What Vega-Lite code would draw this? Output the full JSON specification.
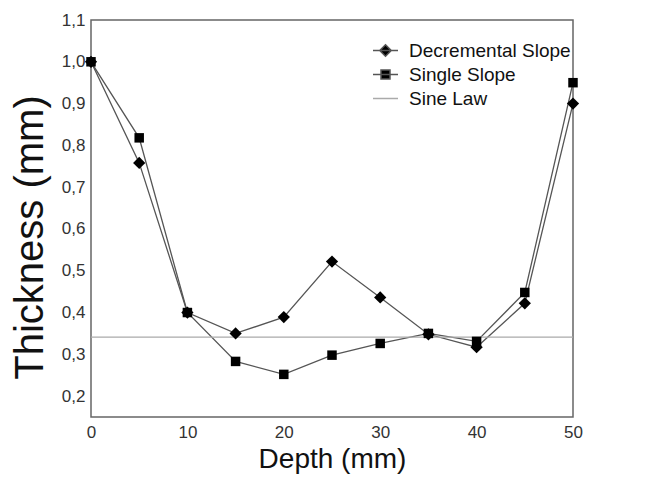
{
  "$schema": "https://vega.github.io/schema/vega-lite/v6.json",
  "width": 482,
  "height": 397,
  "autosize": "none",
  "padding": {"left": 91, "top": 20, "right": 74, "bottom": 60},
  "background": "white",
  "config": {
    "font": "Liberation Sans",
    "view": {"stroke": "#666", "strokeWidth": 1.5}
  },
  "data": {
    "values": [
      {"depth": 0, "thickness": 1.0, "series": "Decremental Slope"},
      {"depth": 5, "thickness": 0.758, "series": "Decremental Slope"},
      {"depth": 10, "thickness": 0.4, "series": "Decremental Slope"},
      {"depth": 15, "thickness": 0.35, "series": "Decremental Slope"},
      {"depth": 20, "thickness": 0.389, "series": "Decremental Slope"},
      {"depth": 25, "thickness": 0.522, "series": "Decremental Slope"},
      {"depth": 30, "thickness": 0.436, "series": "Decremental Slope"},
      {"depth": 35, "thickness": 0.348, "series": "Decremental Slope"},
      {"depth": 40, "thickness": 0.317, "series": "Decremental Slope"},
      {"depth": 45, "thickness": 0.422, "series": "Decremental Slope"},
      {"depth": 50, "thickness": 0.9, "series": "Decremental Slope"},
      {"depth": 0, "thickness": 1.0, "series": "Single Slope"},
      {"depth": 5, "thickness": 0.818, "series": "Single Slope"},
      {"depth": 10, "thickness": 0.4, "series": "Single Slope"},
      {"depth": 15, "thickness": 0.283, "series": "Single Slope"},
      {"depth": 20, "thickness": 0.252, "series": "Single Slope"},
      {"depth": 25, "thickness": 0.298, "series": "Single Slope"},
      {"depth": 30, "thickness": 0.326, "series": "Single Slope"},
      {"depth": 35, "thickness": 0.35, "series": "Single Slope"},
      {"depth": 40, "thickness": 0.331, "series": "Single Slope"},
      {"depth": 45, "thickness": 0.448, "series": "Single Slope"},
      {"depth": 50, "thickness": 0.95, "series": "Single Slope"},
      {"depth": 0, "thickness": 0.341, "series": "Sine Law"},
      {"depth": 50, "thickness": 0.341, "series": "Sine Law"}
    ]
  },
  "encoding": {
    "x": {
      "field": "depth",
      "type": "quantitative",
      "scale": {"domain": [0, 50], "nice": false},
      "axis": {
        "title": "Depth (mm)",
        "values": [0, 10, 20, 30, 40, 50],
        "domain": false,
        "ticks": false,
        "grid": false,
        "labelFontSize": 17,
        "labelColor": "#333",
        "labelPadding": 7,
        "labelFlush": false,
        "titleFontSize": 28,
        "titleFontWeight": "normal",
        "titleColor": "#111",
        "titlePadding": 5
      }
    },
    "y": {
      "field": "thickness",
      "type": "quantitative",
      "scale": {"domain": [0.15, 1.1], "nice": false, "zero": false},
      "axis": {
        "title": "Thickness (mm)",
        "values": [0.2, 0.3, 0.4, 0.5, 0.6, 0.7, 0.8, 0.9, 1.0, 1.1],
        "labelExpr": "replace(format(datum.value, '.1f'), '.', ',')",
        "domain": false,
        "ticks": false,
        "grid": false,
        "labelFontSize": 17,
        "labelColor": "#333",
        "labelPadding": 6,
        "labelFlush": false,
        "titleFontSize": 40,
        "titleFontWeight": "normal",
        "titleColor": "#111",
        "titleX": -41,
        "titleY": 217,
        "titleBaseline": "bottom",
        "titleAngle": -90,
        "titleAlign": "center"
      }
    }
  },
  "layer": [
    {
      "mark": {"type": "line", "strokeWidth": 1.3},
      "encoding": {
        "stroke": {
          "field": "series",
          "type": "nominal",
          "scale": {"domain": ["Decremental Slope", "Single Slope", "Sine Law"], "range": ["#555", "#555", "#aaa"]},
          "legend": {
            "title": null,
            "orient": "none",
            "legendX": 281,
            "legendY": 17,
            "padding": 0,
            "symbolSize": 625,
            "rowPadding": 0,
            "labelOffset": 10,
            "labelFontSize": 19,
            "labelLimit": 400,
            "labelColor": "#111",
            "encode": {
              "symbols": {
                "update": {
                  "shape": {"signal": "datum.value === 'Decremental Slope' ? 'M-1,0L1,0M0,-0.46L0.46,0L0,0.46L-0.46,0Z' : datum.value === 'Single Slope' ? 'M-1,0L1,0M-0.36,-0.36L0.36,-0.36L0.36,0.36L-0.36,0.36Z' : 'M-1,0L1,0'"},
                  "stroke": {"signal": "datum.value === 'Sine Law' ? '#999' : '#333'"},
                  "fill": {"value": "black"},
                  "fillOpacity": {"value": 1},
                  "strokeWidth": {"value": 1.5},
                  "opacity": {"value": 1}
                }
              }
            }
          }
        }
      }
    },
    {
      "transform": [{"filter": "datum.series === 'Decremental Slope'"}],
      "mark": {"type": "point", "shape": "diamond", "size": 150, "filled": true, "opacity": 1, "color": "black"},
      "encoding": {}
    },
    {
      "transform": [{"filter": "datum.series === 'Single Slope'"}],
      "mark": {"type": "point", "shape": "square", "size": 90, "filled": true, "opacity": 1, "color": "black"},
      "encoding": {}
    }
  ]
}
